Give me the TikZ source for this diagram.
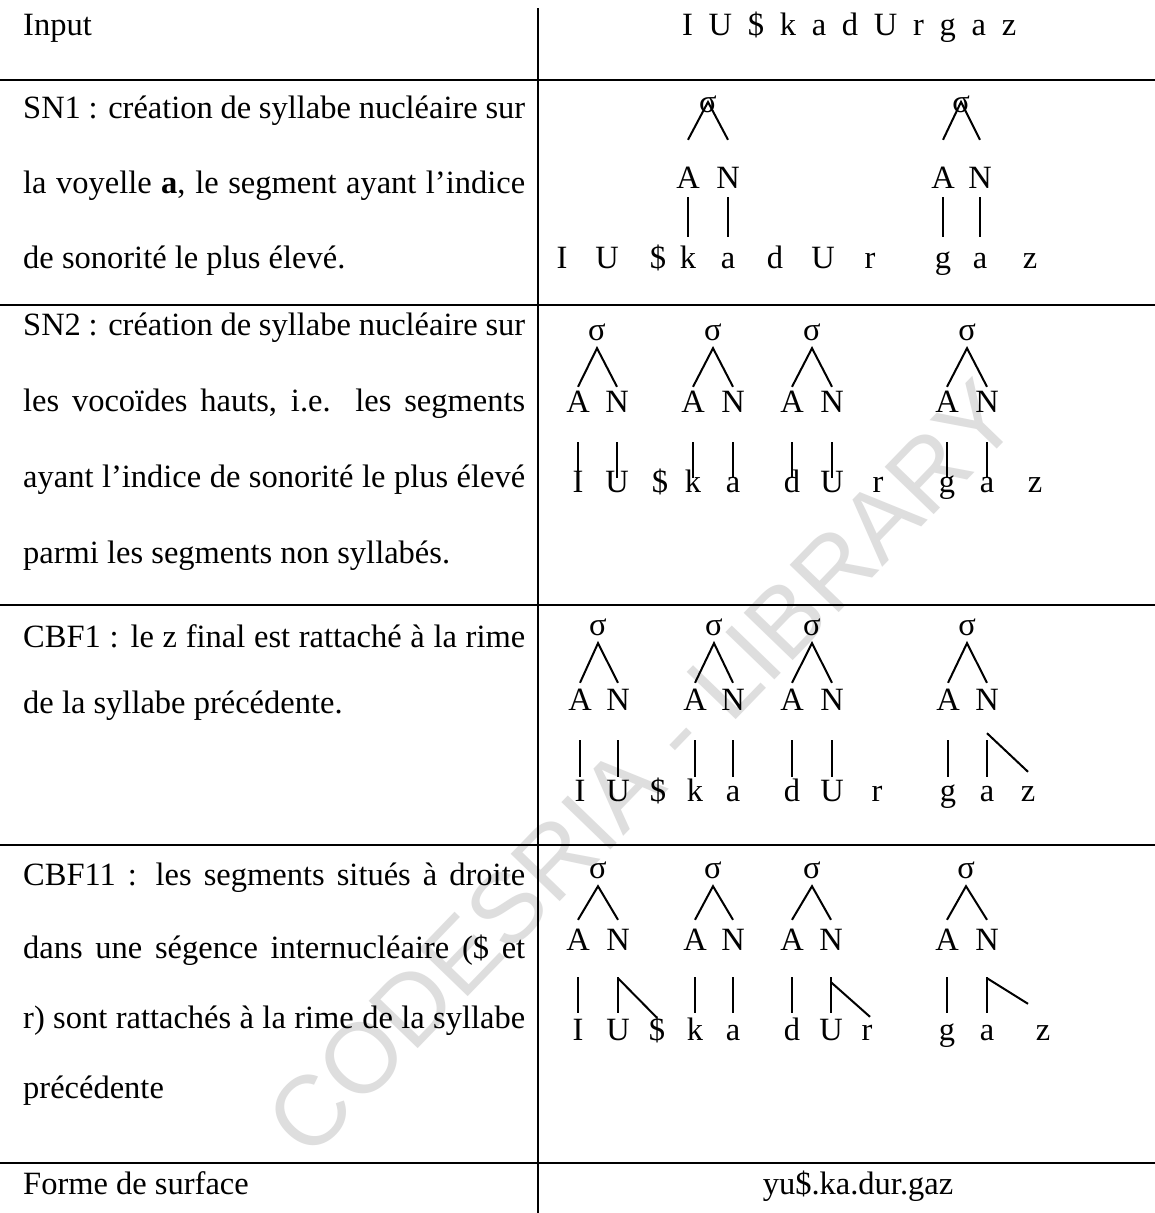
\documentclass[tikz,border=0pt]{standalone}
\usepackage{fontspec}
\setmainfont{Liberation Serif}
\newfontfamily\wmfont{Liberation Sans}

% one justified line of the description column
\newcommand\jline[1]{\hbox to 502pt{#1}}

\begin{document}
\begin{tikzpicture}[x=1pt,y=-1pt,
  rule/.style={line width=1.5pt},
  branch/.style={line width=2pt},
  txt/.style={inner sep=0pt,font=\fontsize{32.5}{39}\selectfont},
  desc/.style={txt,anchor=base west},
  glyph/.style={txt,anchor=base,text height=22pt,text depth=7pt},
  sig/.style={glyph,text depth=8pt},
  watermark/.style={inner sep=0pt,rotate=46,text=black!13,
    font=\wmfont\fontsize{99}{99}\selectfont}]

\fill[white] (0,0) rectangle (1155,1213);
\useasboundingbox (0,0) rectangle (1155,1213);

% library stamp behind the table
\node[watermark] (stamp) at (642,768) {CODESRIA - LIBRARY};

% table rules
\draw[rule] (538,8) -- (538,1213);
\foreach \y in {80,305,605,845,1163}
  \draw[rule] (0,\y) -- (1155,\y);

% ---------- Input ----------
\node[desc] (inlab) at (23,35) {Input};
\node[desc] (inform) at (682,35) {\makebox[334pt][s]{I U \$ k a d U r g a z}};

% ---------- SN1 ----------
\node[desc] (sn1a) at (23,118) {\jline{SN1 : création de syllabe nucléaire sur}};
\node[desc] (sn1b) at (23,193) {\jline{la voyelle \textbf{a}, le segment ayant l’indice}};
\node[desc] (sn1c) at (23,268) {de sonorité le plus élevé.};

\foreach \i/\x/\c in {1/562/I,2/607/U,3/658/\$,4/688/k,5/728/a,6/775/d,
                      7/823/U,8/870/r,9/943/g,10/980/a,11/1030/z}
  \node[glyph] (r1l\i) at (\x,268) {\c};
\foreach \t/\sx/\ax/\nx/\p/\q in {1/708/688/728/4/5, 2/961/943/980/9/10} {
  \node[sig] (s1\t) at (\sx,112) {σ};
  \node[glyph] (a1\t) at (\ax,188) {A};
  \node[glyph] (n1\t) at (\nx,188) {N};
  \draw[branch] ([yshift=26pt]a1\t.north) -- ([yshift=3pt]s1\t.center) -- ([yshift=26pt]n1\t.north);
  \draw[branch,shorten <=2pt,shorten >=9pt] (a1\t.south) -- (r1l\p.north);
  \draw[branch,shorten <=2pt,shorten >=9pt] (n1\t.south) -- (r1l\q.north);
}

% ---------- SN2 ----------
\node[desc] (sn2a) at (23,335) {\jline{SN2 : création de syllabe nucléaire sur}};
\node[desc] (sn2b) at (23,411) {\jline{les vocoïdes hauts, i.e. les segments}};
\node[desc] (sn2c) at (23,487) {\jline{ayant l’indice de sonorité le plus élevé}};
\node[desc] (sn2d) at (23,563) {parmi les segments non syllabés.};

\foreach \i/\x/\c in {1/578/I,2/617/U,3/660/\$,4/693/k,5/733/a,6/792/d,
                      7/832/U,8/878/r,9/947/g,10/987/a,11/1035/z}
  \node[glyph] (r2l\i) at (\x,492) {\c};
\foreach \t/\sx/\ax/\nx/\p/\q in {1/597/578/617/1/2, 2/713/693/733/4/5,
                                  3/812/792/832/6/7, 4/967/947/987/9/10} {
  \node[sig] (s2\t) at (\sx,340) {σ};
  \node[glyph] (a2\t) at (\ax,412) {A};
  \node[glyph] (n2\t) at (\nx,412) {N};
  \draw[branch] ([yshift=3pt]a2\t.north) -- (s2\t.south) -- ([yshift=3pt]n2\t.north);
  \draw[branch,shorten <=23pt,shorten >=-8pt] (a2\t.south) -- (r2l\p.north);
  \draw[branch,shorten <=23pt,shorten >=-8pt] (n2\t.south) -- (r2l\q.north);
}

% ---------- CBF1 ----------
\node[desc] (cb1a) at (23,647) {\jline{CBF1 : le z final est rattaché à la rime}};
\node[desc] (cb1b) at (23,713) {de la syllabe précédente.};

\foreach \i/\x/\c in {1/580/I,2/618/U,3/658/\$,4/695/k,5/733/a,6/792/d,
                      7/832/U,8/877/r,9/948/g,10/987/a,11/1028/z}
  \node[glyph] (r3l\i) at (\x,801) {\c};
\foreach \t/\sx/\ax/\nx/\p/\q in {1/598/580/618/1/2, 2/714/695/733/4/5,
                                  3/812/792/832/6/7, 4/967/948/987/9/10} {
  \node[sig] (s3\t) at (\sx,635) {σ};
  \node[glyph] (a3\t) at (\ax,710) {A};
  \node[glyph] (n3\t) at (\nx,710) {N};
  \draw[branch] ([yshift=5pt]a3\t.north) -- (s3\t.south) -- ([yshift=5pt]n3\t.north);
  \draw[branch,shorten <=23pt,shorten >=2pt] (a3\t.south) -- (r3l\p.north);
  \draw[branch,shorten <=23pt,shorten >=2pt] (n3\t.south) -- (r3l\q.north);
}
% final z linked to the last nucleus
\draw[branch] ([yshift=-16pt]n34.south) -- ([yshift=7pt]r3l11.north);

% ---------- CBF11 ----------
\node[desc] (cb2a) at (23,885) {\jline{CBF11 : les segments situés à droite}};
\node[desc] (cb2b) at (23,958) {\jline{dans une ségence internucléaire (\$ et}};
\node[desc] (cb2c) at (23,1028) {\jline{r) sont rattachés à la rime de la syllabe}};
\node[desc] (cb2d) at (23,1098) {précédente};

\foreach \i/\x/\c in {1/578/I,2/618/U,3/657/\$,4/695/k,5/733/a,6/792/d,
                      7/831/U,8/867/r,9/947/g,10/987/a,11/1043/z}
  \node[glyph] (r4l\i) at (\x,1040) {\c};
\foreach \t/\sx/\ax/\nx/\p/\q in {1/598/578/618/1/2, 2/713/695/733/4/5,
                                  3/812/792/831/6/7, 4/966/947/987/9/10} {
  \node[sig] (s4\t) at (\sx,878) {σ};
  \node[glyph] (a4\t) at (\ax,950) {A};
  \node[glyph] (n4\t) at (\nx,950) {N};
  \draw[branch] ([yshift=8pt]a4\t.north) -- (s4\t.south) -- ([yshift=8pt]n4\t.north);
  \draw[branch,shorten <=20pt,shorten >=5pt] (a4\t.south) -- (r4l\p.north);
  \draw[branch,shorten <=20pt,shorten >=5pt] (n4\t.south) -- (r4l\q.north);
}
% segments to the right of the nuclei linked to the rhymes
\draw[branch] ([yshift=-21pt]n41.south) -- (r4l3.north);
\draw[branch] ([yshift=-25pt]n43.south) -- ([xshift=3pt,yshift=1pt]r4l8.north);
\draw[branch] ([yshift=-21pt]n44.south) -- ([xshift=-15pt,yshift=14pt]r4l11.north);

% ---------- surface form ----------
\node[desc] (surflab) at (23,1194) {Forme de surface};
\node[txt,anchor=base] (surf) at (858,1194) {yu\$.ka.dur.gaz};

\end{tikzpicture}
\end{document}
